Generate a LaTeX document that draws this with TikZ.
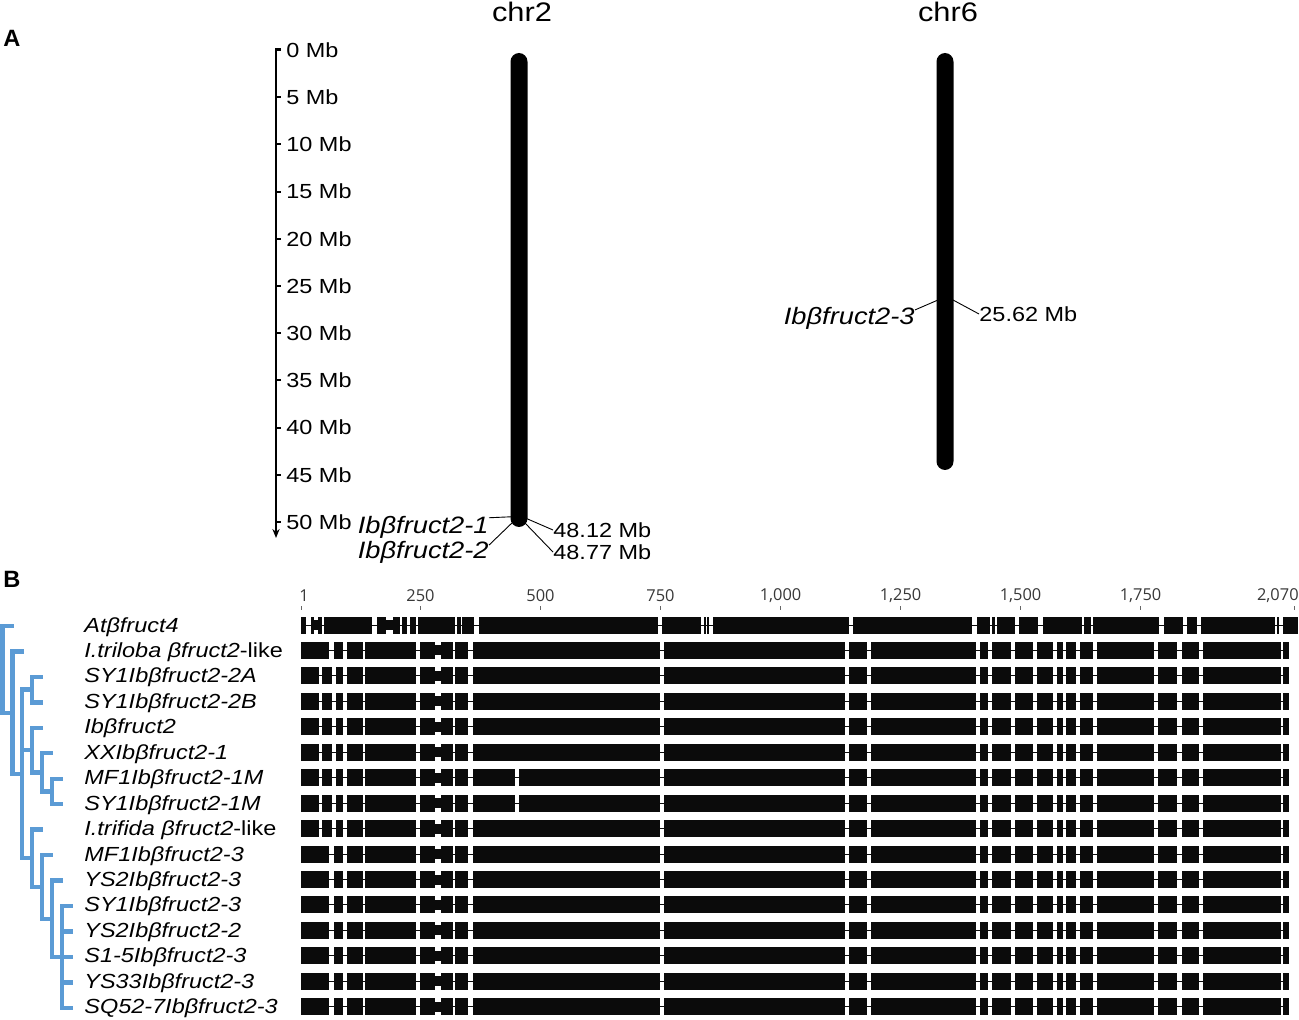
\documentclass[tikz,border=0pt]{standalone}
\usepackage{fontspec}
\setmainfont{Liberation Sans}
\newfontfamily\labfont[FakeStretch=1.15]{Liberation Sans}
\newfontfamily\numfont{Open Sans}
\usetikzlibrary{arrows.meta,calc}
\definecolor{treeblue}{HTML}{5B9BD5}
\definecolor{alnblack}{HTML}{0B0B0B}
\tikzset{lab/.style={font=\labfont\fontsize{10.2}{12}\selectfont,inner sep=0pt}}
\tikzset{gene/.style={font=\labfont\fontsize{11.85}{13}\selectfont\itshape,inner sep=0pt}}
\tikzset{ttl/.style={font=\labfont\fontsize{13.4}{15}\selectfont,inner sep=0pt}}
\tikzset{pnl/.style={font=\bfseries\fontsize{11.8}{13}\selectfont,inner sep=0pt}}
\tikzset{num/.style={font=\numfont\fontsize{8.2}{9}\selectfont,text=black!78,inner sep=0pt}}
\tikzset{branch/.style={draw=treeblue,line width=2.2pt}}
\tikzset{blkfill/.style={fill=alnblack}}
\tikzset{gapline/.style={draw=alnblack,line width=0.5pt}}
\tikzset{ptr/.style={draw,line width=0.45pt}}
\tikzset{rtick/.style={draw=black!60,line width=0.5pt}}
\tikzset{axtick/.style={draw,line width=1pt}}

\newcommand*\alnAt{301/305.7,310.7/314,318/322.3,324.3/372.3,376.7/386,393/400,402.3/407.3,410/416,417.7/455,456.7/460.7,462.3/474.3,479/658.3,661.7/700.7,704/705.5,707/708.5,712.7/849,853.3/972.3,976.7/990,992.3/995,997.3/1015,1019.3/1038.3,1042.7/1081.7,1084/1090.7,1093.3/1159.3,1164/1182.7,1187.3/1196.7,1201/1275,1276.7/1279.3,1282.7/1298.3}
\newcommand*\alnhdA{301/319.3,322.3/331.7,335.7/343.3}
\newcommand*\alnhdB{301/329.3,334.3/343.3}
\newcommand*\alnmidseg{347.3/362.7,365/415.7,420/435,441/453.3,455/468.3}
\newcommand*\alnlgAB{472.7/660}
\newcommand*\alnlgC{472.7/515,519.3/660}
\newcommand*\alntail{664/845,849.3/866.7,870.7/976,980/987.7,992/1011,1015.3/1033.3,1036.7/1053.3,1056.7/1063.3,1066/1075.7,1080/1093.3,1097.3/1154,1158.3/1177.3,1181.7/1199,1202.7/1281,1283.3/1289}

\newcommand\alnrow[4]{%
  \edef\alnblks{#3}\edef\alnnotch{#4}%
  \pgfmathsetmacro\alny{625+25.45*(#1-1)}%
  \draw[gapline] (301,\alny) -- (#2,\alny);
  \foreach \xa/\xb in \alnblks {\fill[blkfill] (\xa,\alny-8.5) rectangle (\xb,\alny+8.5);}
  \foreach \xa/\xb in \alnnotch {\fill[blkfill] (\xa,\alny-5) rectangle (\xb,\alny+5);}
}

\begin{document}
\begin{tikzpicture}[x=0.5pt,y=-0.5pt]
  \useasboundingbox (0,0) rectangle (1299,1020);

  \node[pnl,anchor=base west] (pA) at (3,47) {A};
  \node[pnl,anchor=base west] (pB) at (3,587) {B};

  \draw[line width=1.1pt,-{Stealth[length=4.5pt,width=3.6pt]}] (281,49) -- (276,49) -- (276,538);
  \foreach \k in {0,...,10} {
    \pgfmathtruncatemacro\mbv{5*\k}
    \draw[axtick] (276,{50+47.2*\k}) -- (281,{50+47.2*\k});
    \node[lab,anchor=base west] (mbl\k) at (286,{57.3+47.2*\k}) {\mbv\ Mb};
  }

  \node[ttl] (chr2) at (522,12) {chr2};
  \node[ttl] (chr6) at (948,12) {chr6};
  \fill[black,rounded corners=4.3pt] (510.5,53) rectangle (527.5,527);
  \fill[black,rounded corners=4.3pt] (936.5,53) rectangle (953.5,470);

  \coordinate (c2a) at (513,516.7);
  \coordinate (c2b) at (514,521);
  \coordinate (c2c) at (526,518.3);
  \coordinate (c2d) at (525,523);
  \node[gene,anchor=east] (ib1) at (489,527) {Ibβfruct2-1};
  \node[gene,anchor=east] (ib2) at (489,552) {Ibβfruct2-2};
  \node[lab,anchor=west] (mb1) at (553,530) {48.12 Mb};
  \node[lab,anchor=west] (mb2) at (553,552) {48.77 Mb};
  \draw[ptr] (c2a) -- (ib1.8);
  \draw[ptr] (c2b) -- (ib2.6);
  \draw[ptr] (c2c) -- (mb1.west);
  \draw[ptr] (c2d) -- (mb2.west);

  \coordinate (c6a) at (938,300);
  \coordinate (c6b) at (953,300);
  \node[gene,anchor=east] (ib3) at (915,318) {Ibβfruct2-3};
  \node[lab,anchor=west] (mb3) at (979,314) {25.62 Mb};
  \draw[ptr] (c6a) -- (ib3.7);
  \draw[ptr] (c6b) -- (mb3.west);

  \node[num,anchor=west] (rk1) at (299,596) {1};
  \draw[rtick] (301,606) -- (301,610);
  \foreach \p/\t in {250/250,500/500,750/750,1000/{1,000},1250/{1,250},1500/{1,500},1750/{1,750}} {
    \node[num] (rk\p) at ({301+0.48*(\p-1)},596) {\t};
    \draw[rtick] ({301+0.48*(\p-1)},606) -- ({301+0.48*(\p-1)},610);
  }
  \node[num,anchor=east] (rk2070) at (1299,596) {2,070};
  \draw[rtick] (1294.3,606) -- (1294.3,610);

  \alnrow{1}{1298.3}{\alnAt}{314/318,386/393}
  \alnrow{2}{1289}{\alnhdB,\alnmidseg,\alnlgAB,\alntail}{435/441}
  \alnrow{3}{1289}{\alnhdA,\alnmidseg,\alnlgAB,\alntail}{435/441}
  \alnrow{4}{1289}{\alnhdA,\alnmidseg,\alnlgAB,\alntail}{435/441}
  \alnrow{5}{1289}{\alnhdA,\alnmidseg,\alnlgAB,\alntail}{435/441}
  \alnrow{6}{1289}{\alnhdA,\alnmidseg,\alnlgAB,\alntail}{435/441}
  \alnrow{7}{1289}{\alnhdA,\alnmidseg,\alnlgC,\alntail}{435/441}
  \alnrow{8}{1289}{\alnhdA,\alnmidseg,\alnlgC,\alntail}{435/441}
  \alnrow{9}{1289}{\alnhdA,\alnmidseg,\alnlgAB,\alntail}{435/441}
  \foreach \r in {10,...,16} {\alnrow{\r}{1289}{\alnhdB,\alnmidseg,\alnlgAB,\alntail}{435/441}}

  \foreach \i/\t in {1/{\textit{Atβfruct4}},2/{\textit{I.triloba βfruct2}-like},3/{\textit{SY1Ibβfruct2-2A}},4/{\textit{SY1Ibβfruct2-2B}},5/{\textit{Ibβfruct2}},6/{\textit{XXIbβfruct2-1}},7/{\textit{MF1Ibβfruct2-1M}},8/{\textit{SY1Ibβfruct2-1M}},9/{\textit{I.trifida βfruct2}-like},10/{\textit{MF1Ibβfruct2-3}},11/{\textit{YS2Ibβfruct2-3}},12/{\textit{SY1Ibβfruct2-3}},13/{\textit{YS2Ibβfruct2-2}},14/{\textit{S1-5Ibβfruct2-3}},15/{\textit{YS33Ibβfruct2-3}},16/{\textit{SQ52-7Ibβfruct2-3}}}
    \node[lab,anchor=base west] (lab\i) at (84,{632+25.45*(\i-1)}) {\t};

  \foreach \i/\x in {1/14,2/24,3/43.3,4/43.3,5/43.3,6/53.3,7/62.7,8/62.7,9/43.3,10/53.3,11/62.7,12/72.7,13/72.7,14/72.7,15/72.7,16/72.7}
    \coordinate (t\i) at (\x,{626+25.45*(\i-1)});
  \coordinate (root) at (2.7,669.3);
  \coordinate (nX) at (12.3,712.7);
  \coordinate (nY) at (21.7,773.9);
  \coordinate (n34) at (31.7,689.6);
  \coordinate (n5) at (31.7,750.1);
  \coordinate (n6) at (41.7,772.3);
  \coordinate (n78) at (51.7,791.4);
  \coordinate (n9) at (31.7,858.25);
  \coordinate (n10) at (41.7,886.9);
  \coordinate (n11) at (51.7,918.7);
  \coordinate (n12) at (61.7,956.85);
  \foreach \p/\c in {root/t1,root/nX,nX/t2,nX/nY,nY/n34,nY/n5,nY/n9,n34/t3,n34/t4,n5/t5,n5/n6,n6/t6,n6/n78,n78/t7,n78/t8,n9/t9,n9/n10,n10/t10,n10/n11,n11/t11,n11/n12,n12/t12,n12/t13,n12/t14,n12/t15,n12/t16}
    \draw[branch] (\p) |- (\c);
\end{tikzpicture}
\end{document}
